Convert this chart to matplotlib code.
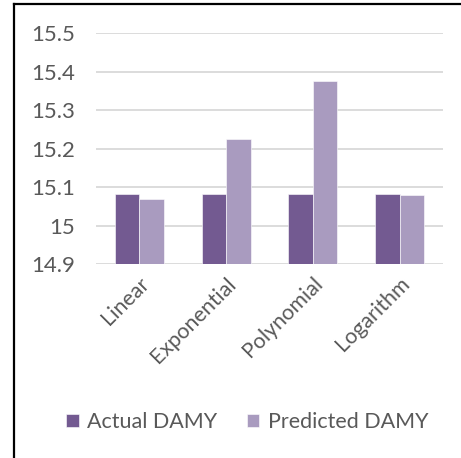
import matplotlib
matplotlib.use("Agg")
import matplotlib.pyplot as plt
import numpy as np

categories = ["Linear", "Exponential", "Polynomial", "Logarithm"]
actual = [15.082, 15.082, 15.082, 15.082]
predicted = [15.068, 15.225, 15.375, 15.079]
yticks = [14.9, 15.0, 15.1, 15.2, 15.3, 15.4, 15.5]
ytick_labels = ["14.9", "15", "15.1", "15.2", "15.3", "15.4", "15.5"]

c_act = "#735a91"
c_pred = "#a99bbf"
tcol = "#595959"
plt.rcParams['font.family'] = ['Lato', 'DejaVu Sans']

fig = plt.figure(figsize=(4.61, 4.58), dpi=100)
ax = fig.add_axes([96/461, 1-264/458, (443-96)/461, (264-33)/458])

x = np.arange(len(categories))
w = 0.282
ax.bar(x - w/2, [a - 14.9 for a in actual], w, bottom=14.9, color=c_act,
       edgecolor="white", linewidth=0.4, label="Actual DAMY", zorder=3)
ax.bar(x + w/2, [p - 14.9 for p in predicted], w, bottom=14.9, color=c_pred,
       edgecolor="white", linewidth=0.4, label="Predicted DAMY", zorder=3)

ax.set_xlim(-0.5, len(categories) - 0.5)
ax.set_ylim(14.9, 15.5)
ax.set_yticks(yticks)
ax.set_yticklabels(ytick_labels, fontsize=16, color=tcol)
ax.set_xticks(x)
ax.set_xticklabels(categories, rotation=45, ha="right", va="top",
                   rotation_mode="anchor", fontsize=15.5, color=tcol)
ax.tick_params(axis="y", length=0, pad=15)
ax.tick_params(axis="x", length=0, pad=7)
ax.grid(axis="y", color="#d9d9d9", linewidth=1.3, zorder=0)
for s in ax.spines.values():
    s.set_visible(False)

leg = fig.legend(loc="center", bbox_to_anchor=(247.5/461, 1-422/458), ncol=2,
                 frameon=False, fontsize=15.5, handlelength=0.56, handleheight=0.56,
                 handletextpad=0.4, columnspacing=1.4)
for t in leg.get_texts():
    t.set_color(tcol)

# outer border (left and top)
fig.add_artist(plt.Line2D([14/461, 14/461], [0, 1-4/458], transform=fig.transFigure,
                          color="black", linewidth=1.6))
fig.add_artist(plt.Line2D([14/461, 1], [1-4/458, 1-4/458], transform=fig.transFigure,
                          color="black", linewidth=1.6))

fig.savefig("out.png", dpi=100)
